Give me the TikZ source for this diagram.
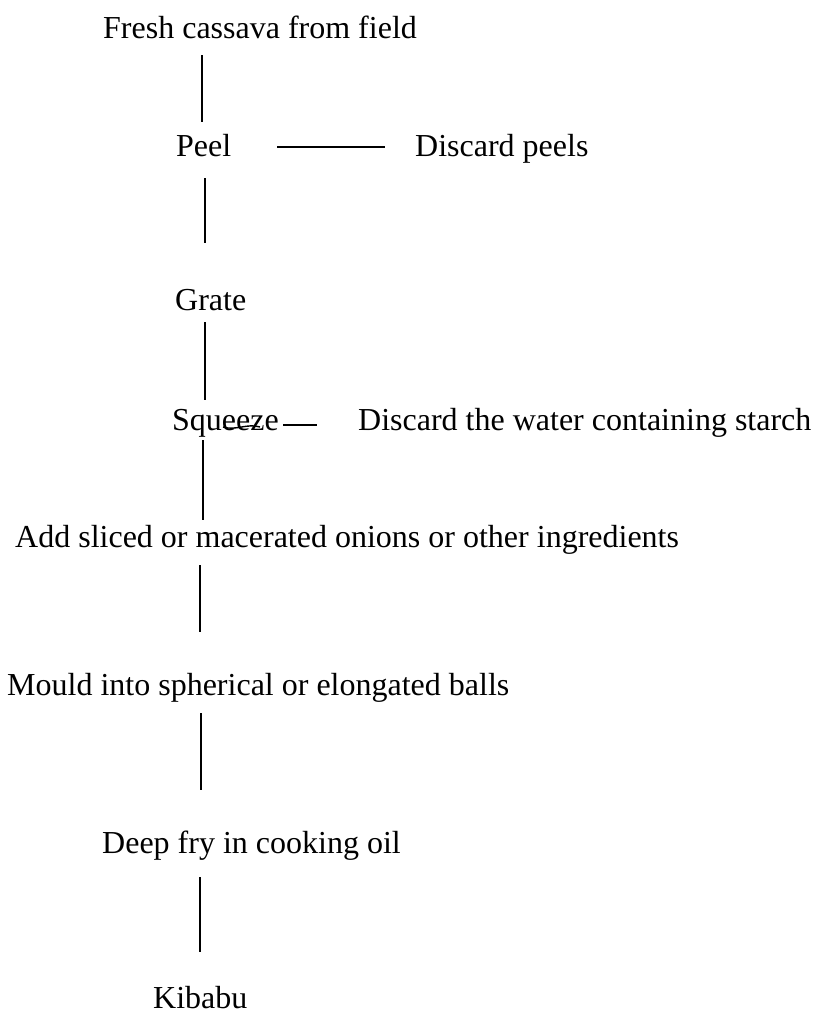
\documentclass[tikz,border=0pt]{standalone}
\usepackage{fontspec}
\setmainfont{Liberation Serif}
\usepackage{tikz}
\usetikzlibrary{positioning}
\tikzset{flow/.style={line width=1.4pt}}
\tikzstyle{stage}=[anchor=base west, inner sep=0pt,
font=\fontsize{32}{38}\selectfont]

\begin{document}
\begin{tikzpicture}[x=1pt,y=-1pt]
	\useasboundingbox (0,0) rectangle (815,1009);
	% steps of the process
	\node[stage] (fresh) at (103,38) {Fresh cassava from field};
	\node[stage] (peel) at (176,156) {Peel};
	\node[stage] (peels) at (415,156) {Discard peels};
	\node[stage] (grate) at (175,310) {Grate};
	\node[stage] (squeeze) at (172,430) {Squeeze};
	\node[stage] (water) at (358,430) {Discard the water containing starch};
	\node[stage] (add) at (15,547) {Add sliced or macerated onions or other ingredients};
	\node[stage] (mould) at (7,695) {Mould into spherical or elongated balls};
	\node[stage] (fry) at (102,853) {Deep fry in cooking oil};
	\node[stage] (kibabu) at (153,1008) {Kibabu};
	% ends of the vertical strokes
	\coordinate (a1) at (202,55);  \coordinate (b1) at (202,122);
	\coordinate (a2) at (205,178); \coordinate (b2) at (205,243);
	\coordinate (a3) at (205,322); \coordinate (b3) at (205,400);
	\coordinate (a4) at (203,440); \coordinate (b4) at (203,520);
	\coordinate (a5) at (200,565); \coordinate (b5) at (200,632);
	\coordinate (a6) at (201,713); \coordinate (b6) at (201,790);
	\coordinate (a7) at (200,877); \coordinate (b7) at (200,952);
	\foreach \i in {1,...,7}
		\draw[flow] (a\i) -- (b\i);
	% side strokes
	\coordinate (p1) at (277,147); \coordinate (p2) at (385,147);
	\draw[flow] (p1) -- (p2);
	\coordinate (s1) at (283,425); \coordinate (s2) at (317,425);
	\draw[flow] (s1) -- (s2);
	\coordinate (w1) at (223,427); \coordinate (w2) at (260,427);
	\draw[flow] (w1) .. controls (236,431) and (247,423) .. (w2);
\end{tikzpicture}
\end{document}
